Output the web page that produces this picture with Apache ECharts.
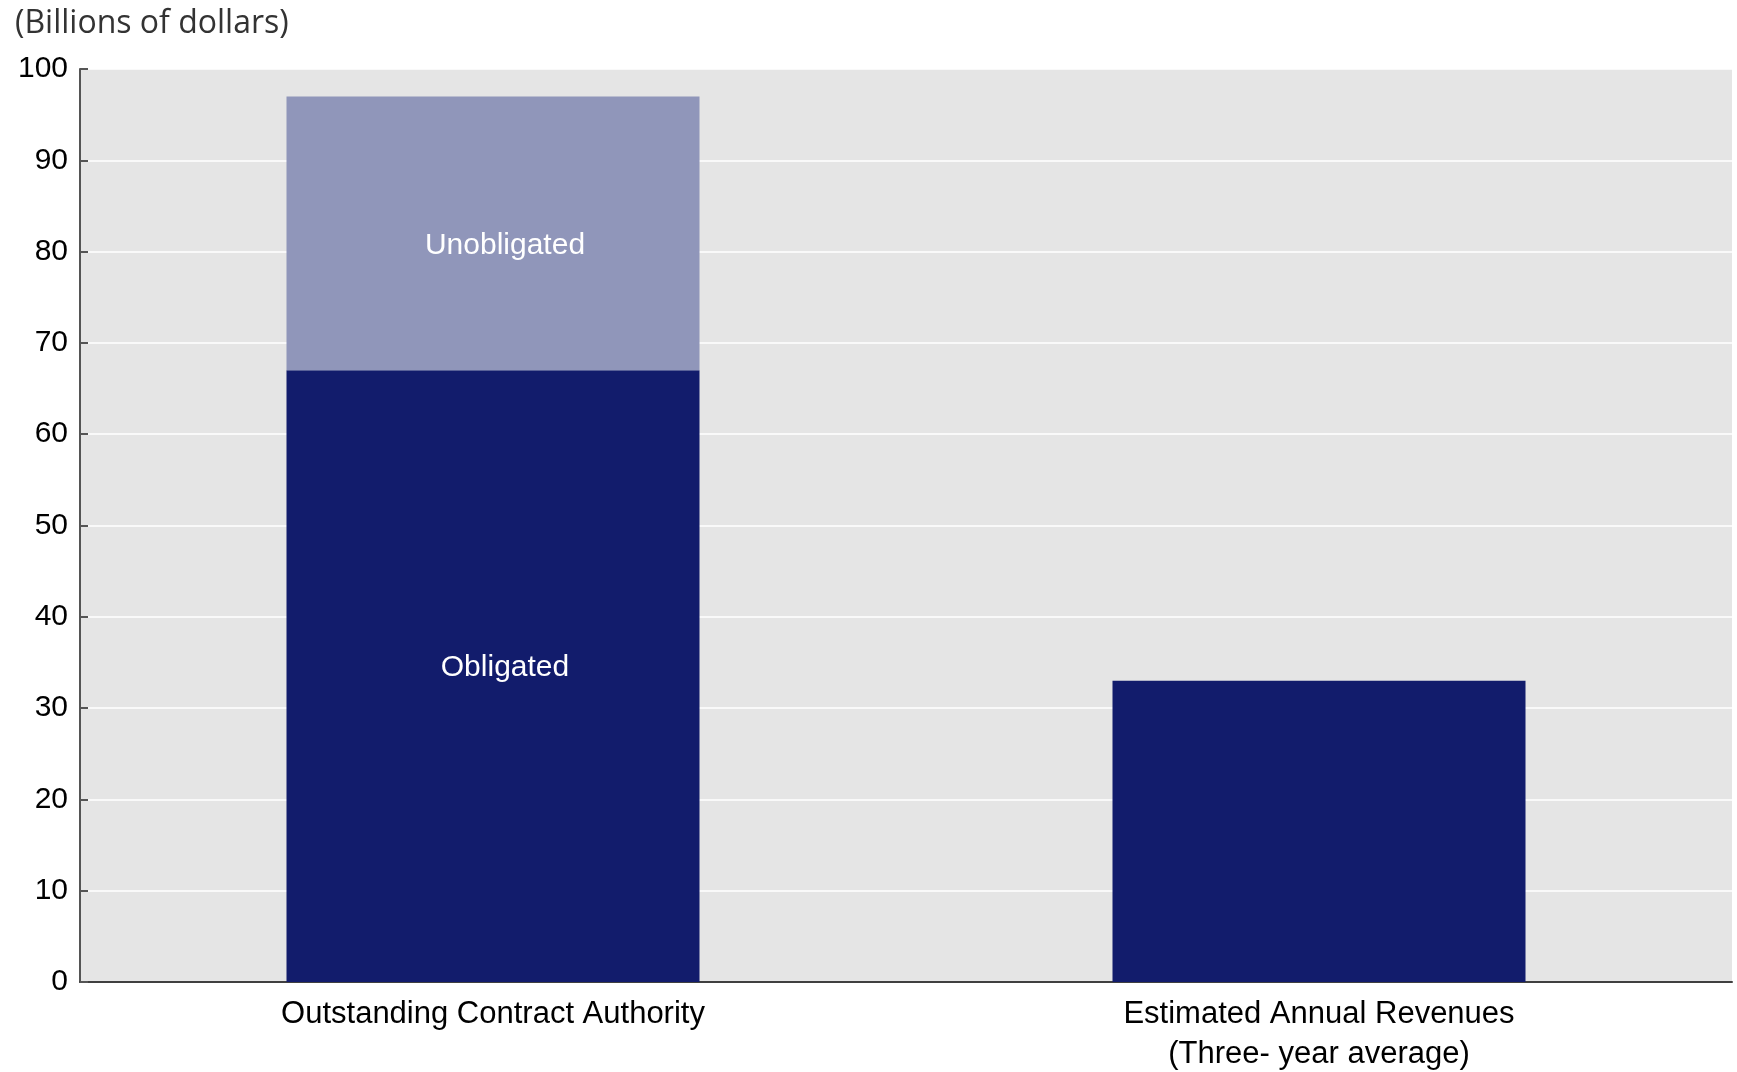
<!DOCTYPE html>
<html>
<head>
<meta charset="utf-8">
<script src="https://cdn.jsdelivr.net/npm/echarts@6/dist/echarts.min.js"></script>
<style>
  html, body { margin: 0; padding: 0; background: #fff; }
  #chart { width: 1737px; height: 1072px; }
</style>
</head>
<body>
<div id="chart"></div>
<script>
// data
const categories = ['Outstanding Contract Authority', 'Estimated Annual Revenues\n(Three- year average)'];
const obligated = [67, 33];
const unobligated = [30, null];
const yTicks = [0, 10, 20, 30, 40, 50, 60, 70, 80, 90, 100];

let myChart = echarts.init(document.getElementById('chart'));
myChart.setOption({
  animation: false,
  title: {
    text: '(Billions of dollars)',
    left: 10,
    top: 3,
    textStyle: {
      fontFamily: 'Open Sans',
      fontWeight: 'normal',
      fontSize: 32,
      color: '#333'
    }
  },
  grid: {
    left: 80,
    right: 5,
    top: 69,
    bottom: 90,
    outerBoundsMode: 'none',
    show: true,
    backgroundColor: '#e5e5e5',
    borderWidth: 0
  },
  xAxis: {
    type: 'category',
    data: categories,
    axisTick: { show: false },
    axisLine: { lineStyle: { color: '#404040', width: 2 } },
    axisLabel: {
      color: '#000',
      fontSize: 31,
      fontFamily: 'Liberation Sans',
      lineHeight: 40,
      margin: 12
    }
  },
  yAxis: {
    type: 'value',
    min: yTicks[0],
    max: yTicks[yTicks.length - 1],
    interval: 10,
    axisLine: { show: true, lineStyle: { color: '#555', width: 2 } },
    axisTick: { show: true, inside: true, length: 8, lineStyle: { color: '#555', width: 2 } },
    splitLine: { lineStyle: { color: '#fff', width: 1.5 } },
    axisLabel: {
      color: '#000',
      fontSize: 30,
      fontFamily: 'Liberation Sans',
      margin: 12
    }
  },
  series: [
    {
      name: 'Obligated',
      type: 'bar',
      stack: 'total',
      data: obligated,
      barWidth: '50%',
      itemStyle: { color: '#121c6c' },
      label: {
        show: true,
        position: 'inside',
        formatter: function (p) { return p.dataIndex === 0 ? 'Obligated' : ''; },
        color: '#fff',
        fontSize: 30,
        fontFamily: 'Liberation Sans',
        offset: [12, -8]
      }
    },
    {
      name: 'Unobligated',
      type: 'bar',
      stack: 'total',
      data: unobligated,
      barWidth: '50%',
      itemStyle: { color: '#9096ba' },
      label: {
        show: true,
        position: 'inside',
        formatter: 'Unobligated',
        color: '#fff',
        fontSize: 30,
        fontFamily: 'Liberation Sans',
        offset: [12, 12]
      }
    }
  ]
});
</script>
</body>
</html>
